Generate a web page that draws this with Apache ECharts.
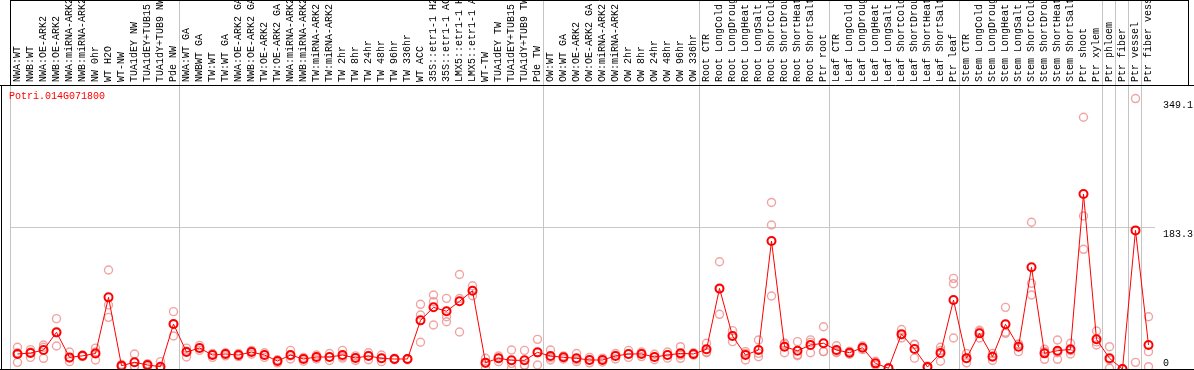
<!DOCTYPE html>
<html>
<head>
<meta charset="utf-8">
<script src="https://cdn.jsdelivr.net/npm/echarts@6/dist/echarts.min.js"></script>
<style>
html,body{margin:0;padding:0;background:#fff;}
#chart{width:1194px;height:370px;}
</style>
</head>
<body>
<div id="chart"></div>
<script>
const geneName = 'Potri.014G071800';

const categories = [
  'NWA:WT','NWB:WT','NWA:OE-ARK2','NWB:OE-ARK2','NWA:miRNA-ARK2','NWB:miRNA-ARK2','NW 0hr','WT H2O','WT-NW','TUA1dEY NW','TUA1dEY+TUB15','TUA1dY+TUB9 NW','Pde NW',
  'NWA:WT GA','NWBWT GA','TW:WT','TW:WT GA','NWA:OE-ARK2 GA','NWB:OE-ARK2 GA','TW:OE-ARK2','TW:OE-ARK2 GA','NWA:miRNA-ARK2','NWB:miRNA-ARK2','TW:miRNA-ARK2','TW:miRNA-ARK2',
  'TW 2hr','TW 8hr','TW 24hr','TW 48hr','TW 96hr','TW 336hr','WT ACC','35S::etr1-1 H2O','35S::etr1-1 ACC','LMX5::etr1-1 H2O','LMX5::etr1-1 ACC','WT-TW','TUA1dEY TW','TUA1dEY+TUB15','TUA1dY+TUB9 TW','Pde TW',
  'OW:WT','OW:WT GA','OW:OE-ARK2','OW:OE-ARK2 GA','OW:miRNA-ARK2','OW:miRNA-ARK2','OW 2hr','OW 8hr','OW 24hr','OW 48hr','OW 96hr','OW 336hr',
  'Root CTR','Root LongCold','Root LongDrought','Root LongHeat','Root LongSalt','Root ShortCold','Root ShortDrought','Root ShortHeat','Root ShortSalt','Ptr root',
  'Leaf CTR','Leaf LongCold','Leaf LongDrought','Leaf LongHeat','Leaf LongSalt','Leaf ShortCold','Leaf ShortDrought','Leaf ShortHeat','Leaf ShortSalt','Ptr leaf',
  'Stem CTR','Stem LongCold','Stem LongDrought','Stem LongHeat','Stem LongSalt','Stem ShortCold','Stem ShortDrought','Stem ShortHeat','Stem ShortSalt','Ptr shoot','Ptr xylem',
  'Ptr phloem','Ptr fiber','Ptr vessel','Ptr fiber vessel'
];

// group boundaries: index of first category of each group
const groupStarts = [0, 13, 41, 53, 63, 73, 84, 85, 86, 87];

const meanValues = [
  19.4, 20.6, 24.5, 47.3, 15, 17, 20, 92.5, 4.3, 8.6, 5.2, 3, 58,
  21.9, 27.1, 18, 19.4, 18, 21.9, 18, 10.3, 18, 12.9, 15.5, 15.5,
  18, 14.2, 16.8, 13.8, 12.9, 12.9, 62.8, 79.6, 74.5, 87.4, 101, 8.2, 13.8, 11.2, 11.2, 21.5,
  16.8, 15.1, 13.8, 11.6, 11.6, 16.8, 19.4, 19.4, 15.5, 18, 20.2, 19.4,
  25.4, 104, 42.6, 18, 24.5, 165.2, 28.8, 23.6, 31, 33.2,
  24.5, 21, 27.5, 7.3, 1, 45, 25.8, 2.6, 20.6, 89,
  14, 46, 15.9, 57.7, 28.8, 131.3, 20.2, 23.6, 25.4, 225.9, 38.3,
  13.8, 0, 178.9, 31
];

const rep1 = [
  28, 25, 31, 65, 22, 17, 27, 127.8, 3.9, 19.4, 7, 9.5, 74,
  27, 30.5, 20, 21, 20, 24, 21, 12, 24, 15, 18, 20,
  24, 17, 21, 18, 14, 13.5, 83.5, 95.5, 91.2, 122, 107.5, 13.8, 16.8, 24.5, 24, 38.3,
  24.5, 17, 20, 15, 14, 20, 24, 22, 19, 22, 28.8, 21,
  33.2, 138.5, 49.5, 22.4, 37.4, 215, 31.9, 35.3, 34.4, 54.6,
  30, 23, 29.7, 10, 2, 51, 32, 4, 28, 117,
  20, 50, 20, 79.6, 32.3, 189.4, 25.4, 37.4, 33.2, 325, 49,
  28.8, 0, 349.1, 67.5
];

const rep2 = [
  8.6, 15, 13.8, 29.7, 9.5, 16, 11.6, 82.6, 6, 3, 3, 0, 42.6,
  15.5, 24, 15, 17, 16, 19, 15, 8, 13, 10, 13, 11,
  14, 11, 12, 9.5, 12, 12, 69.7, 86.9, 67.5, 91, 101, 7.3, 13.8, 7.3, 5.2, 5.2,
  11.6, 13, 9.5, 8, 9, 13, 15, 16, 12, 14, 13.8, 18,
  21, 70.6, 35.3, 11.6, 15.9, 185.9, 21, 17.2, 21, 22.4,
  21, 19, 25, 5, 0.5, 40, 14, 1.5, 10, 110,
  8, 40, 11, 46, 22.4, 110.6, 12.5, 12.5, 19.4, 197.5, 31,
  0.9, 0, 8.6, 22.4
];

const rep3 = [
  21, 22, 28, 47, 14, 18, 22, 66.7, 3, 3.4, 5.6, 0, 57.4,
  23, 27, 19, 20, 18, 22.7, 18, 11, 17, 13.7, 15.5, 15.5,
  16, 14.6, 17.4, 14, 12.7, 13.2, 34.5, 56.8, 61, 47.8, 94.5, 0.9, 9.5, 0.9, 4.4, 21,
  14.3, 15.3, 12, 11.8, 11.8, 17.4, 19.2, 20.2, 15.5, 18, 18, 19.2,
  22, 103, 43, 20, 20.2, 94.2, 33.5, 18.3, 37.6, 22.6,
  22.5, 21, 27.8, 7, 0.5, 44, 31.4, 2.3, 23.8, 40,
  14, 48, 16.7, 47.5, 31.7, 95.5, 22.7, 21, 23.6, 154.5, 35,
  11.7, 0, null, 3
];

const yTickValues = [0, 183.3, 349.1];
const yMax = 366.6;
const yInterval = 183.3;

const MONO = 'Liberation Mono, DejaVu Sans Mono, monospace';

const repData = [];
[rep1, rep2, rep3].forEach(arr => {
  arr.forEach((v, i) => { if (v !== null && v !== undefined) repData.push([i, v]); });
});

const chart = echarts.init(document.getElementById('chart'), null, {renderer: 'canvas'});

const option = {
  animation: false,
  backgroundColor: '#fff',
  title: {
    text: geneName,
    left: 9,
    top: 91,
    padding: 0,
    textStyle: {color: '#ff0000', fontFamily: MONO, fontSize: 10, fontWeight: 'normal'}
  },
  grid: {left: 11, right: 39, top: 85, bottom: 1, containLabel: false, outerBoundsMode: 'none'},
  xAxis: {
    type: 'category',
    position: 'top',
    data: categories,
    boundaryGap: true,
    axisLine: {show: false},
    axisTick: {show: false},
    splitLine: {show: false},
    axisLabel: {
      interval: 0,
      rotate: 90,
      margin: 3,
      color: '#000',
      fontFamily: MONO,
      fontSize: 10,
      width: 87,
      overflow: 'truncate',
      ellipsis: ''
    }
  },
  yAxis: {
    type: 'value',
    position: 'right',
    min: 0,
    max: yMax,
    interval: yInterval,
    axisLine: {show: false},
    axisTick: {show: false},
    splitLine: {show: true, lineStyle: {color: '#c8c8c8', width: 1}},
    axisLabel: {
      customValues: yTickValues,
      margin: 8,
      color: '#000',
      fontFamily: MONO,
      fontSize: 10,
      verticalAlign: 'middle',
      formatter: function (v) {
        return v === 0 ? '{b|' + v + '}' : '{t|' + v + '}';
      },
      rich: {
        t: {padding: [14, 0, 0, 0], fontFamily: MONO, fontSize: 10, color: '#000'},
        b: {padding: [0, 0, 12, 0], fontFamily: MONO, fontSize: 10, color: '#000'}
      }
    }
  },
  series: [
    {
      type: 'custom',
      name: 'separators',
      silent: true,
      z: 1,
      data: groupStarts.map(i => [i]),
      encode: {x: 0},
      renderItem: function (params, api) {
        const i = api.value(0);
        const p = api.coord([i, 0]);
        const w = api.size([1, 0])[0];
        const x = Math.round(p[0] - w / 2) - 0.5;
        return {
          type: 'line',
          shape: {x1: x, y1: 0, x2: x, y2: 370},
          style: {stroke: '#c4c4c4', lineWidth: 1}
        };
      }
    },
    {
      type: 'scatter',
      name: 'replicates',
      z: 3,
      clip: false,
      symbol: 'circle',
      symbolSize: 8,
      data: repData,
      itemStyle: {color: 'rgba(0,0,0,0)', borderColor: '#ee8c8c', borderWidth: 1.4}
    },
    {
      type: 'line',
      name: 'mean',
      z: 4,
      clip: false,
      data: meanValues,
      symbol: 'circle',
      symbolSize: 8,
      showAllSymbol: true,
      lineStyle: {color: '#ff0000', width: 1},
      itemStyle: {color: 'rgba(0,0,0,0)', borderColor: '#ff0000', borderWidth: 2}
    }
  ],
  graphic: [
    {type: 'line', z: 10, shape: {x1: 10.5, y1: 0.5, x2: 1188.5, y2: 0.5}, style: {stroke: '#000', lineWidth: 1}},
    {type: 'line', z: 10, shape: {x1: 10.5, y1: 0, x2: 10.5, y2: 85}, style: {stroke: '#000', lineWidth: 1}},
    {type: 'line', z: 10, shape: {x1: 1188.5, y1: 0, x2: 1188.5, y2: 85}, style: {stroke: '#000', lineWidth: 1}},
    {type: 'line', z: 10, shape: {x1: 0, y1: 85.5, x2: 1194, y2: 85.5}, style: {stroke: '#000', lineWidth: 1}},
    {type: 'line', z: 10, shape: {x1: 1.5, y1: 85, x2: 1.5, y2: 370}, style: {stroke: '#000', lineWidth: 1}},
    {type: 'line', z: 10, shape: {x1: 0, y1: 369.5, x2: 1194, y2: 369.5}, style: {stroke: '#000', lineWidth: 1}}
  ]
};

chart.setOption(option);
</script>
</body>
</html>
